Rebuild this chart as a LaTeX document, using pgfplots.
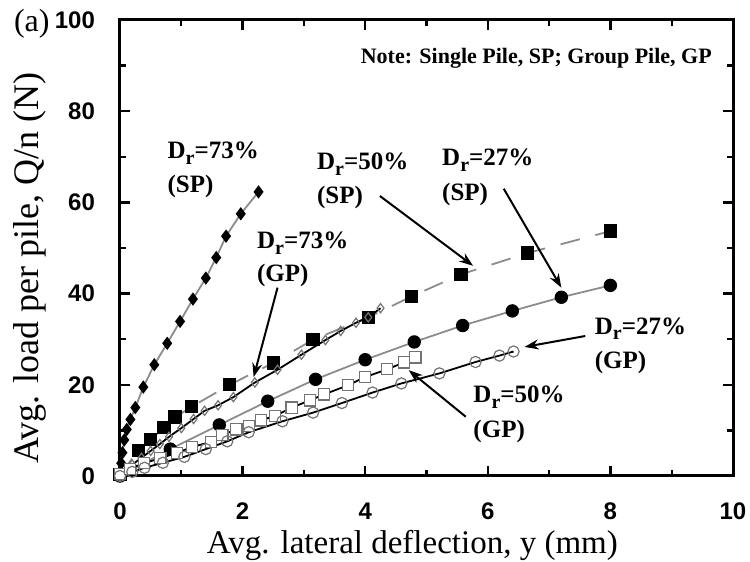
\documentclass[border=0pt]{standalone}
\usepackage{pgfplots}
\pgfplotsset{compat=1.18}
\usetikzlibrary{arrows.meta}
\usepackage{fontspec}
\setmainfont{Liberation Serif}
\setsansfont{Liberation Sans}
\definecolor{lg}{gray}{0.55}
\definecolor{mg}{gray}{0.45}
\newcommand{\Dr}{D\raisebox{-0.5ex}{\fontsize{10}{10}\selectfont r}}
\begin{document}
\begin{tikzpicture}
\useasboundingbox (-60pt,-43pt) rectangle (315pt,238pt);
\begin{axis}[
  at={(0,0)}, anchor=south west,
  scale only axis,
  width=306.5pt, height=228pt,
  xmin=0, xmax=10, ymin=0, ymax=100,
  xtick={0,2,...,10}, ytick={0,20,...,100},
  minor xtick={1,3,...,9}, minor ytick={10,30,...,90},
  tick align=inside, tick pos=both,
  major tick length=5pt, minor tick length=3pt,
  every tick/.style={line width=1.2pt, black},
  axis line style={line width=1.5pt},
  /pgf/number format/assume math mode=true,
  ticklabel style={font=\sffamily\bfseries\fontsize{12}{12}\selectfont},
  xticklabel style={yshift=-10pt},
  yticklabel style={xshift=-9pt},
  xlabel={Avg. lateral deflection, y (mm)},
  ylabel={Avg. load per pile, Q/n (N)},
  xlabel style={font=\fontsize{16.5}{17}\selectfont, at={(axis description cs:0.477,-0.171)}, anchor=base},
  ylabel style={font=\fontsize{18}{19}\selectfont, at={(axis description cs:-0.147,0.456)}, anchor=center},
  clip=false,
]
% 73% SP
\addplot[lg, line width=0.9pt, mark=diamond*, mark size=2.6pt, mark options={black, fill=black, solid}] coordinates {
(0,0) (0.02,2.8) (0.04,5.1) (0.07,7.9) (0.11,10.2) (0.17,12.4) (0.25,15.0) (0.38,19.5)
(0.56,24.4) (0.77,29.1) (0.98,33.9) (1.19,38.8) (1.40,43.4) (1.57,47.9) (1.73,52.6)
(1.97,57.5) (2.26,62.3)};
% 27% SP
\addplot[lg, line width=0.9pt, mark=*, mark size=2.9pt, mark options={black, fill=black, solid}] coordinates {
(0,0) (0.82,5.9) (1.62,11.2) (2.41,16.4) (3.19,21.2) (4.0,25.5) (4.8,29.4) (5.59,33.0)
(6.4,36.2) (7.2,39.2) (8.0,41.8)};
% 50% SP
\addplot[lg, line width=0.9pt, dash pattern=on 10pt off 8pt, mark=square*, mark size=2.9pt, mark options={black, fill=black, solid}] coordinates {
(0,0.3) (0.3,5.6) (0.5,8.0) (0.72,10.6) (0.9,12.9) (1.17,15.2) (1.79,20.0) (2.5,24.8)
(3.15,29.9) (4.05,34.8) (4.76,39.4) (5.56,44.2) (6.65,48.9) (8.0,53.7)};
% 73% GP
\addplot[black, line width=0.9pt, mark=diamond, mark size=2.3pt, mark options={mg, fill=white, solid, line width=0.6pt}] coordinates {
(0,0) (0.1,1.2) (0.2,2.5) (0.35,4.0) (0.5,5.5) (0.65,7.0) (0.8,8.6) (1.0,10.5) (1.2,12.5)
(1.38,14.3) (1.6,15.5) (1.85,17.3) (2.2,20.5) (2.57,23.3) (2.96,26.6) (3.35,29.8)
(3.6,31.8) (3.85,33.6) (4.05,34.8) (4.25,36.8)};
% 50% GP
\addplot[black, line width=0.9pt, mark=square*, mark size=2.8pt, mark options={mg, fill=white, solid, line width=0.6pt}] coordinates {
(0,0.4) (0.16,1.6) (0.39,2.8) (0.66,3.9) (0.93,5.1) (1.17,6.3) (1.48,7.5) (1.67,9.0)
(1.9,10.2) (2.1,11.0) (2.3,12.2) (2.53,13.2) (2.8,15.0) (3.1,16.6) (3.33,17.9) (3.72,19.9)
(4.0,21.7) (4.36,23.4) (4.63,24.9) (4.82,26.0)};
% 27% GP
\addplot[black, line width=0.9pt, mark=o, mark size=2.8pt, mark options={mg, solid, line width=0.6pt}] coordinates {
(0,0) (0.2,0.9) (0.4,1.8) (0.7,2.9) (1.05,4.2) (1.4,5.9) (1.75,7.6) (2.1,9.6) (2.65,12.0)
(3.15,13.9) (3.62,16.0) (4.12,18.3) (4.59,20.3) (5.21,22.5) (5.8,25.0) (6.19,26.4) (6.42,27.3)};

% annotations
\begin{scope}[every node/.style={font=\bfseries\fontsize{12.5}{13}\selectfont, anchor=west, inner sep=0pt}]
\node at (axis cs:0.77,70.8) {\Dr=73\%};
\node at (axis cs:0.77,63.4) {(SP)};
\node at (axis cs:3.21,68.4) {\Dr=50\%};
\node at (axis cs:3.21,61.0) {(SP)};
\node at (axis cs:5.25,69.2) {\Dr=27\%};
\node at (axis cs:5.25,61.8) {(SP)};
\node at (axis cs:2.23,51.1) {\Dr=73\%};
\node at (axis cs:2.23,44.0) {(GP)};
\node at (axis cs:7.74,32.3) {\Dr=27\%};
\node at (axis cs:7.74,24.8) {(GP)};
\node at (axis cs:5.76,17.3) {\Dr=50\%};
\node at (axis cs:5.76,9.8) {(GP)};
\end{scope}
\begin{scope}[line width=1pt, -{Stealth[length=7pt,width=5pt]}]
\draw (axis cs:4.24,61.4) -- (axis cs:5.76,46.1);
\draw (axis cs:6.26,63) -- (axis cs:7.2,41.3);
\draw (axis cs:2.57,41.3) -- (axis cs:2.18,21.7);
\draw (axis cs:7.59,30.7) -- (axis cs:6.6,28.3);
\draw (axis cs:5.64,13.0) -- (axis cs:4.71,23.2);
\end{scope}
\node[anchor=east, font=\bfseries\fontsize{11}{12}\selectfont, inner sep=0pt] at (axis cs:9.66,91.7) {Note: Single Pile, SP; Group Pile, GP};
\node[anchor=east, font=\fontsize{16}{17}\selectfont, inner sep=0pt] at ([xshift=-35pt,yshift=-2pt]axis cs:0,100) {(a)};
\end{axis}
\end{tikzpicture}
\end{document}
